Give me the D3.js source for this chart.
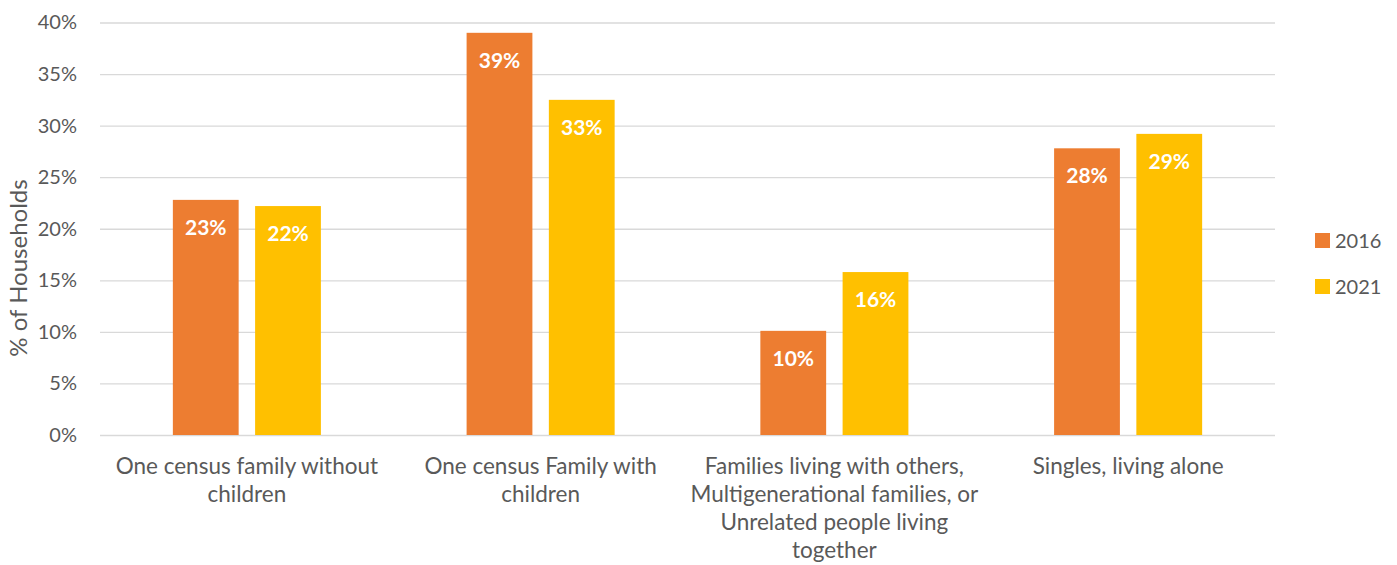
<!DOCTYPE html>
<html>
<head>
<meta charset="utf-8">
<script src="https://cdn.jsdelivr.net/npm/d3@7"></script>
<style>
  html, body { margin: 0; padding: 0; background: #fff; }
  svg { display: block; font-family: Lato, "Open Sans", sans-serif; }
</style>
</head>
<body>
<svg id="chart" width="1397" height="565"></svg>
<script>
// Household types (label lines for each category)
const categories = [
  ["One census family without", "children"],
  ["One census Family with", "children"],
  ["Families living with others,", "Multigenerational families, or", "Unrelated people living", "together"],
  ["Singles, living alone"]
];
const years = ["2016", "2021"];
// Share of households by year, in percent
const values2016 = [22.8, 39.0, 10.1, 27.8];
const values2021 = [22.2, 32.5, 15.8, 29.2];
const yTicks = [0, 5, 10, 15, 20, 25, 30, 35, 40];
const colors = ["#ED7D31", "#FFC000"];

const svg = d3.select("#chart");
const plot = { left: 100, right: 1275, top: 22.5, bottom: 435 };

const catKeys = categories.map(c => c.join(" "));
const x0 = d3.scaleBand()
  .domain(catKeys)
  .range([plot.left, plot.right])
  .paddingInner(0.496)
  .paddingOuter(0.248);
const x1 = d3.scaleBand()
  .domain(years)
  .range([0, x0.bandwidth()])
  .paddingInner(0.2);
const y = d3.scaleLinear().domain([0, 40]).range([plot.bottom, plot.top]);

// Gridlines and y tick labels
const yAxis = d3.axisLeft(y)
  .tickValues(yTicks)
  .tickSize(-(plot.right - plot.left))
  .tickPadding(23)
  .tickFormat(d => d + "%");
const gy = svg.append("g")
  .attr("transform", `translate(${plot.left},0)`)
  .call(yAxis);
gy.select(".domain").remove();
gy.selectAll(".tick line").attr("stroke", "#d9d9d9").attr("stroke-width", 1.3);
gy.selectAll(".tick text")
  .attr("fill", "#595959")
  .style("font-size", "20px")
  .style("font-family", "Lato, sans-serif");

// Y axis title
svg.append("text")
  .attr("transform", `translate(27,268) rotate(-90)`)
  .attr("text-anchor", "middle")
  .attr("fill", "#595959")
  .style("font-size", "24px")
  .text("% of Households");

// Bars
const series = [values2016, values2021];
const groups = svg.append("g").selectAll("g")
  .data(catKeys)
  .join("g")
  .attr("transform", d => `translate(${x0(d)},0)`);

const cells = groups.selectAll("g")
  .data((d, i) => years.map((yr, j) => ({ yr, v: series[j][i], c: colors[j] })))
  .join("g");

cells.append("rect")
  .attr("x", d => x1(d.yr))
  .attr("width", x1.bandwidth())
  .attr("y", d => y(d.v))
  .attr("height", d => y(0) - y(d.v))
  .attr("fill", d => d.c);

cells.append("text")
  .attr("x", d => x1(d.yr) + x1.bandwidth() / 2)
  .attr("y", d => y(d.v) + 35)
  .attr("text-anchor", "middle")
  .attr("fill", "#fff")
  .style("font-size", "21px")
  .style("font-weight", "bold")
  .text(d => d3.format(".0f")(d.v) + "%");

// Category labels
const xl = svg.append("g");
categories.forEach((lines, i) => {
  const cx = x0(catKeys[i]) + x0.bandwidth() / 2;
  const t = xl.append("text")
    .attr("x", cx)
    .attr("y", 474)
    .attr("text-anchor", "middle")
    .attr("fill", "#595959")
    .style("font-size", "22.5px");
  lines.forEach((ln, k) => {
    t.append("tspan")
      .attr("x", cx)
      .attr("dy", k === 0 ? 0 : 28)
      .text(ln);
  });
});

// Legend
const legend = svg.append("g").attr("transform", "translate(1315,233)");
years.forEach((yr, i) => {
  const g = legend.append("g").attr("transform", `translate(0,${i * 46})`);
  g.append("rect").attr("width", 15).attr("height", 15).attr("fill", colors[i]);
  g.append("text")
    .attr("x", 20)
    .attr("y", 15)
    .attr("fill", "#595959")
    .style("font-size", "20px")
    .text(yr);
});
</script>
</body>
</html>
